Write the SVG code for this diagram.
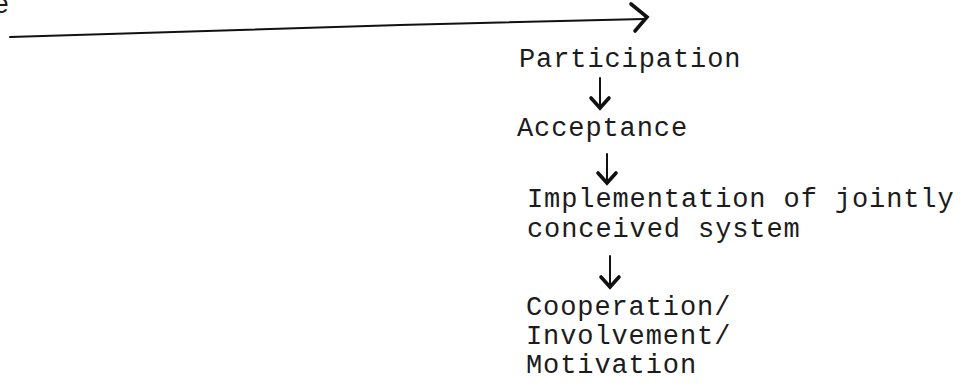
<svg xmlns="http://www.w3.org/2000/svg" width="972" height="392" viewBox="0 0 972 392">
  <style>
    .t { font-family: "Liberation Mono", "Courier New", monospace; font-size: 27px; letter-spacing: 0.9px; fill: #1c1c1c; }
    .ln { fill: none; stroke: #111; stroke-width: 2; stroke-linecap: round; stroke-linejoin: round; }
    .hd { fill: none; stroke: #111; stroke-width: 3.6; stroke-linecap: round; stroke-linejoin: miter; }
  </style>
  <rect width="972" height="392" fill="#fff"/>

  <!-- clipped trailing letter from the line above -->
  <text class="t" x="-7" y="13">e</text>

  <g id="connectors">
    <!-- long lead-in arrow -->
    <path class="ln" d="M10 37 L400 25 L644 19"/>
    <path class="hd" d="M631 4 L647 17 L635 31"/>
    <!-- Participation -> Acceptance -->
    <path class="ln" d="M600 78 L600 108"/>
    <path class="hd" d="M591 98 L600 108 L609 98"/>
    <!-- Acceptance -> Implementation -->
    <path class="ln" d="M607 154 L607 183"/>
    <path class="hd" d="M598 173 L607 183 L616 173"/>
    <!-- Implementation -> Cooperation -->
    <path class="ln" d="M610 256 L610 287"/>
    <path class="hd" d="M601 277 L610 287 L619 277"/>
  </g>

  <g id="participation">
    <text class="t" x="519" y="67">Participation</text>
  </g>
  <g id="acceptance">
    <text class="t" x="517" y="136">Acceptance</text>
  </g>
  <g id="implementation">
    <text class="t" x="527" y="207">Implementation of jointly</text>
    <text class="t" x="527" y="237">conceived system</text>
  </g>
  <g id="cooperation">
    <text class="t" x="526" y="315">Cooperation/</text>
    <text class="t" x="526" y="344">Involvement/</text>
    <text class="t" x="526" y="373">Motivation</text>
  </g>
</svg>
